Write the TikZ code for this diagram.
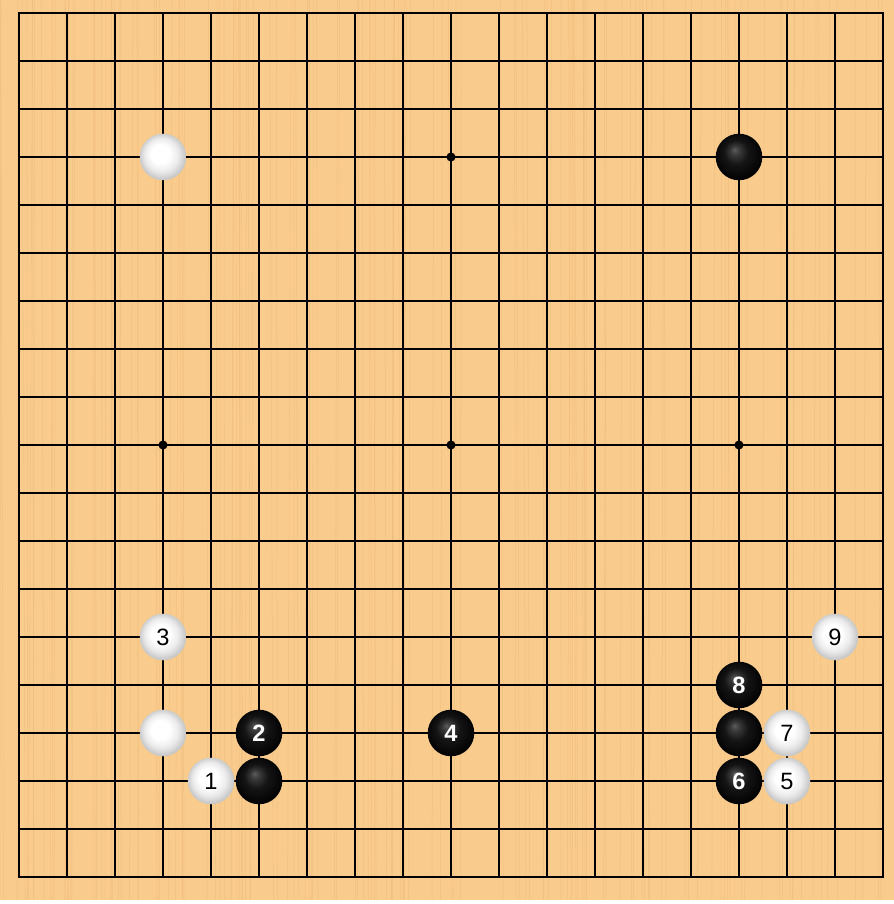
\documentclass[tikz,border=0pt]{standalone}
\usepackage{fontspec}
\setmainfont{Liberation Sans}
\definecolor{boardwood}{HTML}{F9CB8D}
\definecolor{woodgrain}{HTML}{E9B574}
\pgfdeclareradialshading{whiteball}{\pgfqpoint{-4bp}{5bp}}{color(0bp)=(white); color(10bp)=(white); color(18bp)=(white!92!black); color(24bp)=(white!80!black); color(32bp)=(white!68!black)}
\pgfdeclareradialshading{blackball}{\pgfqpoint{-5bp}{8bp}}{color(0bp)=(white!36!black); color(5bp)=(white!22!black); color(13bp)=(white!8!black); color(24bp)=(white!2!black); color(34bp)=(black)}
\tikzset{
  blackstone/.style={circle,inner sep=0pt,minimum size=0.97cm,shading=blackball,text=white,font=\fontsize{14}{14}\selectfont\bfseries},
  whitestone/.style={circle,inner sep=0pt,minimum size=0.97cm,shading=whiteball,text=black,font=\fontsize{14}{14}\selectfont},
  starpoint/.style={circle,fill=black,inner sep=0pt,minimum size=0.19cm}
}
\begin{document}
\begin{tikzpicture}
    \useasboundingbox (-0.396,-0.5625) rectangle (18.229,18.271);
    \fill[white] (-0.396,-0.5625) rectangle (18.229,18.271);
    \fill[boardwood] (-0.396,-0.479) rectangle (18.229,18.271);
    % wood grain
    \pgfmathsetseed{7}
    \foreach \i in {1,...,140} {
      \pgfmathsetmacro{\gx}{-0.4+18.6*rnd}
      \pgfmathsetmacro{\gd}{0.08*rand}
      \draw[woodgrain,line width=0.3pt,opacity=0.45] (\gx,-0.479) -- (\gx+\gd,18.271);
    }
    % lines
    \draw[line width=1.2pt] (0,0) grid (18,18);
    \draw[line width=1.4pt] (0,0) rectangle (18,18);
    \foreach \x in {3,9,15}
      \foreach \y in {3,9,15}
        \node[starpoint] (star\x\y) at (\x,\y) {};
    % stones
    \node[whitestone] (wtl) at (3,15) {};
    \node[blackstone] (btr) at (15,15) {};
    \node[whitestone] (w1) at (4,2) {1};
    \node[blackstone] (b2) at (5,3) {2};
    \node[whitestone] (w3) at (3,5) {3};
    \node[blackstone] (b4) at (9,3) {4};
    \node[whitestone] (w5) at (16,2) {5};
    \node[blackstone] (b6) at (15,2) {6};
    \node[whitestone] (w7) at (16,3) {7};
    \node[blackstone] (b8) at (15,4) {8};
    \node[whitestone] (w9) at (17,5) {9};
    \node[whitestone] (wbl) at (3,3) {};
    \node[blackstone] (bbl) at (5,2) {};
    \node[blackstone] (bbr) at (15,3) {};
  \end{tikzpicture}
\end{document}
